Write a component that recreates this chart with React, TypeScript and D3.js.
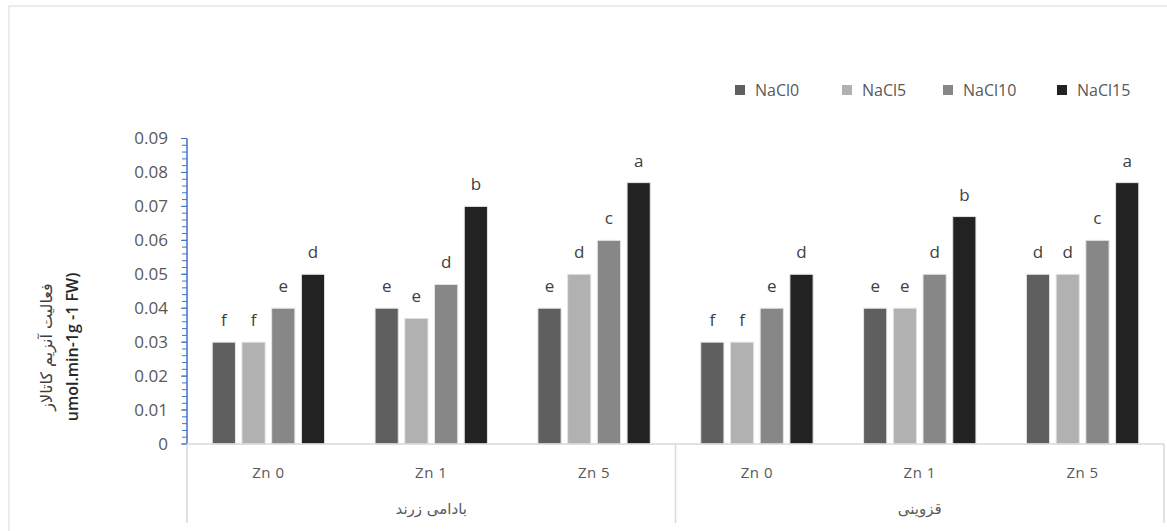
import React from 'react';
import * as d3 from 'd3';

const cultivars = ['بادامی زرند', 'قزوینی'];
const zincLevels = ['Zn 0', 'Zn 1', 'Zn 5'];
const seriesNames = ['NaCl0', 'NaCl5', 'NaCl10', 'NaCl15'];
const seriesColors = ['#5f5f5f', '#b1b1b1', '#878787', '#222222'];

// one value per cultivar x zinc level, in order
const nacl0 = [0.03, 0.04, 0.04, 0.03, 0.04, 0.05];
const nacl5 = [0.03, 0.037, 0.05, 0.03, 0.04, 0.05];
const nacl10 = [0.04, 0.047, 0.06, 0.04, 0.05, 0.06];
const nacl15 = [0.05, 0.07, 0.077, 0.05, 0.067, 0.077];
const seriesValues = [nacl0, nacl5, nacl10, nacl15];

const letters0 = ['f', 'e', 'e', 'f', 'e', 'd'];
const letters5 = ['f', 'e', 'd', 'f', 'e', 'd'];
const letters10 = ['e', 'd', 'c', 'e', 'd', 'c'];
const letters15 = ['d', 'b', 'a', 'd', 'b', 'a'];
const seriesLetters = [letters0, letters5, letters10, letters15];

const yTicks = [0, 0.01, 0.02, 0.03, 0.04, 0.05, 0.06, 0.07, 0.08, 0.09];

const W = 1167;
const H = 531;
const plot = { left: 187, right: 1164, top: 138.5, bottom: 444 };
const legendX = [735, 842, 943, 1057];

const categories = cultivars.flatMap(c => zincLevels.map(z => `${c}|${z}`));

export default function App() {
  const x0 = d3.scaleBand<string>().domain(categories).range([plot.left, plot.right]).padding(0);
  const groupW = x0.bandwidth() * 0.69;
  const x1 = d3.scaleBand<string>().domain(seriesNames).range([0, groupW]).paddingInner(0.22).paddingOuter(0);
  const y = d3.scaleLinear().domain([0, 0.09]).range([plot.bottom, plot.top]);
  const minorTicks = d3.range(0, 0.0901, 0.002);
  const fmt = (v: number) => (v === 0 ? '0' : d3.format('.2f')(v));
  const cultivarW = (plot.right - plot.left) / cultivars.length;

  const font = '"Open Sans", "DejaVu Sans", sans-serif';

  return (
    <svg width={W} height={H} style={{ position: 'absolute', left: 0, top: 0, background: '#fff' }} fontFamily={font}>
      <rect x={9} y={6} width={W + 20} height={H + 20} fill="#fff" stroke="#d9d9d9" strokeWidth={1} />

      {/* legend */}
      {seriesNames.map((s, i) => (
        <g key={s} transform={`translate(${legendX[i]},90)`}>
          <rect x={0} y={-5} width={10} height={10} fill={seriesColors[i]} />
          <text x={20} y={0} dy="0.35em" fontSize={16} fill="#595959">{s}</text>
        </g>
      ))}

      {/* y axis */}
      {minorTicks.map((t, i) => (
        <line key={`m${i}`} x1={plot.left - 5} x2={plot.left} y1={y(t)} y2={y(t)} stroke="#4472c4" strokeWidth={1} />
      ))}
      {yTicks.map(t => (
        <g key={t}>
          <line x1={plot.left - 6} x2={plot.left} y1={y(t)} y2={y(t)} stroke="#4472c4" strokeWidth={1} />
          <text x={168} y={y(t)} dy="0.35em" textAnchor="end" fontSize={17} fill="#595959">{fmt(t)}</text>
        </g>
      ))}
      <line x1={plot.left} x2={plot.left} y1={y(0.09)} y2={plot.bottom} stroke="#4472c4" strokeWidth={1.5} />

      {/* bars */}
      {categories.map((c, ci) => {
        const gx = (x0(c) ?? 0) + (x0.bandwidth() - groupW) / 2;
        return seriesNames.map((s, si) => {
          const v = seriesValues[si][ci];
          const bx = gx + (x1(s) ?? 0);
          return (
            <g key={`${c}-${s}`}>
              <rect x={bx} y={y(v)} width={x1.bandwidth()} height={plot.bottom - y(v)}
                fill={seriesColors[si]} stroke="#e4e4e4" strokeWidth={1} />
              <text x={bx + x1.bandwidth() / 2} y={y(v) - 16} textAnchor="middle" fontSize={17} fill="#404040">
                {seriesLetters[si][ci]}
              </text>
            </g>
          );
        });
      })}

      {/* x axis */}
      <line x1={plot.left} x2={plot.right} y1={plot.bottom} y2={plot.bottom} stroke="#d9d9d9" strokeWidth={1.5} />
      {d3.range(cultivars.length + 1).map(i => (
        <line key={`sep${i}`} x1={plot.left + i * cultivarW} x2={plot.left + i * cultivarW}
          y1={plot.bottom} y2={523} stroke="#d9d9d9" strokeWidth={1.5} />
      ))}
      {categories.map(c => (
        <text key={`lab${c}`} x={(x0(c) ?? 0) + x0.bandwidth() / 2} y={473} dy="0.35em" textAnchor="middle"
          fontSize={15} letterSpacing={0.5} fill="#595959">
          {c.split('|')[1]}
        </text>
      ))}
      {cultivars.map((c, i) => (
        <text key={c} x={plot.left + (i + 0.5) * cultivarW} y={509} dy="0.35em" textAnchor="middle"
          fontSize={15} fill="#595959" fontFamily='"DejaVu Sans", sans-serif' direction="rtl">
          {c}
        </text>
      ))}

      {/* y title */}
      <g transform="translate(46,347) rotate(-90)">
        <text textAnchor="middle" dy="0.35em" fontSize={16} fill="#404040" fontFamily='"DejaVu Sans", sans-serif'>
          فعالیت آنزیم کاتالاز
        </text>
      </g>
      <g transform="translate(72,347) rotate(-90)">
        <text textAnchor="middle" dy="0.35em" fontSize={16} fontWeight={600} fill="#262626">
          umol.min-1g -1 FW)
        </text>
      </g>
    </svg>
  );
}
